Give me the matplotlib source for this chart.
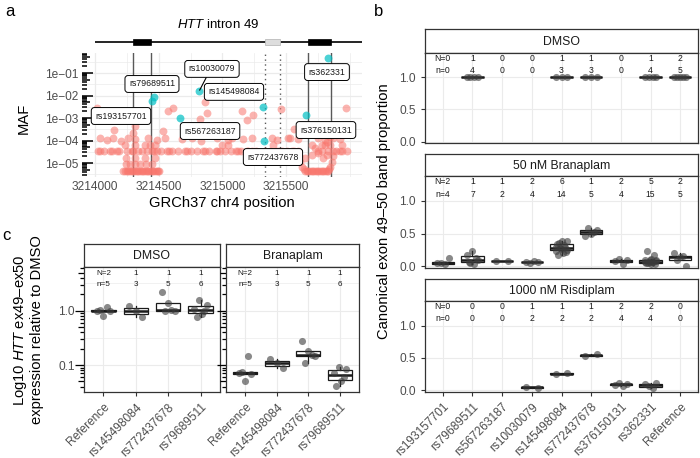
import matplotlib
matplotlib.use('Agg')
import matplotlib.pyplot as plt
import matplotlib.transforms as mtrans
from matplotlib.patches import Rectangle
import numpy as np

plt.rcParams['font.family'] = ['Liberation Sans', 'DejaVu Sans']
plt.rcParams['mathtext.fontset'] = 'custom'
plt.rcParams['mathtext.rm'] = 'Liberation Sans'
plt.rcParams['mathtext.it'] = 'Liberation Sans:italic'

# ---------------- panel a data ----------------
bg_pos = [3214026, 3214040, 3214073, 3214118, 3214130, 3214175, 3214190, 3214249, 3214288,
          3214300, 3214335, 3214372, 3214406, 3214445, 3214460, 3214484, 3214518, 3214563,
          3214580, 3214607, 3214654, 3214707, 3214720, 3214754, 3214798, 3214850, 3214860,
          3214895, 3214947, 3214960, 3214981, 3215021, 3215068, 3215104, 3215120, 3215146,
          3215191, 3215200, 3215230, 3215261, 3215335, 3215374, 3215418, 3215440, 3215466,
          3215505, 3215544, 3215560, 3215596, 3215753, 3215785, 3215827, 3215871, 3215890,
          3215923, 3215940, 3215976]
bg_maf = [3.3e-5] * len(bg_pos)

row2_pos = [3214039, 3214092, 3214144, 3214204, 3214262, 3214314, 3214419, 3214484, 3214550,
            3214680, 3214759, 3214830, 3214955, 3215047, 3215073, 3215165, 3215230, 3215387,
            3215426, 3215531, 3215596, 3215753, 3215806, 3215871, 3215923]
row2_maf = [1.3e-4, 1.1e-4, 1.3e-4, 1.0e-4, 1.3e-4, 1.2e-4, 1.3e-4, 1.1e-4, 1.3e-4,
            1.2e-4, 1.3e-4, 1.0e-4, 1.3e-4, 1.1e-4, 1.3e-4, 1.2e-4, 1.3e-4, 1.3e-4,
            1.1e-4, 1.3e-4, 1.2e-4, 1.3e-4, 1.1e-4, 1.3e-4, 1.2e-4]

row3_pos = [3214236, 3214314, 3214393, 3214432, 3214471, 3214994, 3215047, 3215400,
            3215701, 3215806, 3215845, 3215937]
row3_maf = [6.5e-5] * len(row3_pos)

exon_pos = [3214222, 3214236, 3214249, 3214262, 3214275, 3214288, 3214301, 3214314, 3214327,
            3214340, 3214353, 3214366, 3214379, 3214392, 3214406, 3214419, 3214432, 3214445,
            3214458, 3214471, 3214484, 3214497, 3214503,
            3214241, 3214275, 3214314, 3214353, 3214398, 3214450,
            3214240, 3214314, 3214393, 3214471, 3214301,
            3215650, 3215662, 3215675, 3215688, 3215701, 3215714, 3215727, 3215740, 3215753,
            3215766, 3215779, 3215793, 3215806, 3215819, 3215832,
            3215628, 3215609, 3215600, 3215845, 3215858, 3215866, 3215640, 3215838,
            3215649, 3215793, 3215753, 3215780, 3215819, 3215845, 3215700, 3215730, 3215820]
exon_maf = [4.4e-6] * 23 + [9e-6] * 6 + [1.6e-5] * 4 + [2.1e-4] + [4.4e-6] * 15 + \
           [6.9e-6, 1.15e-5, 2e-5, 6.9e-6, 1.15e-5, 2e-5, 5.5e-6, 5.5e-6,
            1.6e-5, 1.6e-5, 2.7e-5, 6.3e-5, 8.9e-5, 1.5e-4, 2.2e-5, 4.5e-5, 2.3e-5]

hi_pos = [3214013, 3214178, 3214150, 3214314, 3214615, 3214576, 3214536, 3214824, 3214864,
          3214877, 3215152, 3215191, 3215243, 3215458, 3215968, 3215565, 3215086, 3215517]
hi_maf = [2.7e-3, 9e-4, 3.0e-4, 4.6e-4, 2.9e-3, 2.1e-3, 2.7e-4, 9e-4, 5e-3,
          1.6e-3, 2.0e-3, 8e-4, 1.35e-3, 2.5e-3, 2.7e-3, 3.2e-4, 1.9e-2, 1.26e-4]

snp_names = ['rs193157701', 'rs79689511', 'rs567263187', 'rs10030079', 'rs145498084',
             'rs772437678', 'rs376150131', 'rs362331']
snp_pos = [3214445, 3214463, 3214667, 3214819, 3215321, 3215327, 3215656, 3215832]
snp_maf = [5.7e-3, 8.3e-3, 1.0e-3, 1.6e-2, 3.2e-3, 1.0e-4, 1.3e-3, 0.45]

exon_lines = [3214298, 3214440, 3215672, 3215853]
pseudo_lines = [3215335, 3215452]

# ---------------- panel b data ----------------
b_cats = ['rs193157701', 'rs79689511', 'rs567263187', 'rs10030079', 'rs145498084',
          'rs772437678', 'rs376150131', 'rs362331', 'Reference']
b_facets = ['DMSO', '50 nM Branaplam', '1000 nM Risdiplam']
b_dmso = [[], [1, 1, 1, 1], [], [], [1, 1, 1], [1, 1, 1], [], [1, 1, 1, 1], [1, 1, 1, 1, 1]]
b_bran = [[0.035, 0.045, 0.055, 0.13],
          [0.03, 0.05, 0.07, 0.09, 0.13, 0.18, 0.23],
          [0.08, 0.085],
          [0.05, 0.065, 0.07, 0.075],
          [0.18, 0.20, 0.22, 0.24, 0.25, 0.27, 0.28, 0.29, 0.30, 0.32, 0.34, 0.36, 0.38, 0.39],
          [0.46, 0.50, 0.52, 0.55, 0.59],
          [0.04, 0.085, 0.09, 0.11],
          [0.03, 0.04, 0.05, 0.05, 0.06, 0.06, 0.07, 0.07, 0.08, 0.09, 0.10, 0.10, 0.12, 0.18, 0.23],
          [0.005, 0.10, 0.14, 0.16, 0.21]]
b_risd = [[], [], [], [0.04, 0.05], [0.25, 0.27], [0.53, 0.56],
          [0.06, 0.09, 0.10, 0.12], [0.04, 0.06, 0.10, 0.12], []]
b_N = [[0, 1, 0, 0, 1, 1, 0, 1, 2],
       [2, 1, 1, 2, 6, 1, 2, 5, 2],
       [0, 0, 0, 1, 1, 1, 2, 2, 0]]

# ---------------- panel c data ----------------
c_cats = ['Reference', 'rs145498084', 'rs772437678', 'rs79689511']
c_facets = ['DMSO', 'Branaplam']
c_dmso = [[0.78, 0.98, 1.0, 1.02, 1.18], [0.75, 0.98, 1.22],
          [0.97, 0.99, 1.01, 1.38, 2.2], [0.77, 0.88, 0.98, 1.05, 1.25, 1.55]]
c_bran = [[0.05, 0.068, 0.073, 0.076, 0.145], [0.088, 0.108, 0.128],
          [0.108, 0.148, 0.155, 0.18, 0.28], [0.042, 0.052, 0.06, 0.07, 0.085, 0.092]]
c_N = [2, 1, 1, 1]

# ---------------- layout helpers ----------------
W, H = 700, 458
fig = plt.figure(figsize=(7, 4.58), dpi=100)
GRID = '#EBEBEB'
BORDER = '#333333'
TICKTXT = '#4D4D4D'


def px_axes(x0, y0, x1, y1):
    return fig.add_axes([x0 / W, 1 - y1 / H, (x1 - x0) / W, (y1 - y0) / H])


def strip(x0, y0, x1, y1, label):
    s = px_axes(x0, y0, x1, y1)
    s.set_xticks([])
    s.set_yticks([])
    for sp in s.spines.values():
        sp.set_color(BORDER)
        sp.set_linewidth(0.9)
    s.text(0.5, 0.47, label, ha='center', va='center', fontsize=8.8,
           color='#1A1A1A', transform=s.transAxes)


def style_panel(ax):
    for sp in ax.spines.values():
        sp.set_color(BORDER)
        sp.set_linewidth(0.9)
    ax.set_axisbelow(True)
    ax.tick_params(colors=BORDER, labelcolor=TICKTXT, labelsize=8.6, length=3, width=0.8)


def log_ticks(ax, lens, outside, lw=0.9):
    trans = mtrans.blended_transform_factory(ax.transAxes, ax.transData)
    w = ax.get_position().width * W
    lo, hi = ax.get_ylim()
    for e in range(-7, 2):
        for m in range(1, 10):
            v = m * 10.0 ** e
            if v < lo or v > hi:
                continue
            L = lens[0] if m == 1 else (lens[1] if m == 5 else lens[2])
            f = L / w
            xs = [-f, 0] if outside else [0, f]
            ax.plot(xs, [v, v], transform=trans, color='black', lw=lw,
                    clip_on=False, solid_capstyle='butt')


def jitter(i, n, width=0.2):
    if n == 1:
        return np.array([float(i)])
    base = np.linspace(-width, width, n)
    return i + base[np.argsort(np.sin(np.arange(n) * 2.4 + i))]


def draw_boxes(ax, groups):
    for i, vals in enumerate(groups):
        if len(vals) == 0:
            continue
        ax.boxplot([vals], positions=[i], widths=0.75, showfliers=False, patch_artist=True,
                   boxprops=dict(facecolor='white', edgecolor='#1A1A1A', lw=0.9),
                   medianprops=dict(color='#1A1A1A', lw=1.8),
                   whiskerprops=dict(color='#1A1A1A', lw=0.9),
                   capprops=dict(lw=0), manage_ticks=False)
        ax.scatter(jitter(i, len(vals)), vals, s=26, color='#3A3A3A', alpha=0.6,
                   linewidths=0, zorder=5)


# ================= panel a =================
ax_a = px_axes(82.3, 53, 362, 177)
ax_a.set_xlim(3213900, 3216096)
ax_a.set_yscale('log')
ax_a.set_ylim(2.4e-6, 0.774)
for sp in ax_a.spines.values():
    sp.set_visible(False)
ax_a.set_xticks([3214000, 3214500, 3215000, 3215500])
ax_a.set_xticklabels(['3214000', '3214500', '3215000', '3215500'])
ax_a.set_xticks([3214250, 3214750, 3215250, 3215750, 3216000], minor=True)
ax_a.set_yticks([1e-5, 1e-4, 1e-3, 1e-2, 1e-1])
ax_a.set_yticklabels(['1e\u221205', '1e\u221204', '1e\u221203', '1e\u221202', '1e\u221201'])
ax_a.set_yticks([10 ** (k + 0.5) for k in range(-6, 0)], minor=True)
ax_a.yaxis.set_minor_formatter(plt.NullFormatter())
ax_a.tick_params(which='both', length=0, labelcolor=TICKTXT, labelsize=8.6, pad=3)
ax_a.grid(True, which='major', color=GRID, lw=0.9)
ax_a.grid(True, which='minor', color=GRID, lw=0.5)
ax_a.set_axisbelow(True)

for xv in exon_lines:
    ax_a.axvline(xv, color='#595959', lw=1.0, zorder=1)
for xv in pseudo_lines:
    ax_a.axvline(xv, color='#595959', lw=1.0, ls=(0, (1, 2.5)), zorder=1)

salmon = '#F8766D'
for px, py in [(bg_pos, bg_maf), (row2_pos, row2_maf), (row3_pos, row3_maf),
               (exon_pos, exon_maf), (hi_pos, hi_maf)]:
    ax_a.scatter(px, py, s=32, color=salmon, alpha=0.55, linewidths=0, zorder=2)
ax_a.scatter(snp_pos, snp_maf, s=32, color='#00BFC4', alpha=0.7, linewidths=0, zorder=3)
log_ticks(ax_a, (11, 8, 5), outside=False, lw=1.1)

label_xy = [(3214204, 1.23e-3), (3214447, 0.0325), (3214903, 2.65e-4), (3214918, 0.152),
            (3215091, 0.0145), (3215397, 1.85e-5), (3215813, 2.93e-4), (3215821, 0.11)]
ax_a.plot([3214885, 3214822], [0.085, 0.0175], color='black', lw=0.8, zorder=4)
for name, (lx, ly) in zip(snp_names, label_xy):
    ax_a.text(lx, ly, name, ha='center', va='center', fontsize=6.3, color='#1A1A1A', zorder=6,
              bbox=dict(boxstyle='round,pad=0.45,rounding_size=0.35', fc='white', ec='black', lw=0.7))

fig.text(24 / W, 1 - 118 / H, 'MAF', rotation=90, ha='center', va='center', fontsize=10.6)
fig.text(222 / W, 1 - 203 / H, 'GRCh37 chr4 position', ha='center', va='center', fontsize=10.6)

# gene track
ax_t = px_axes(82.3, 32, 362, 52)
ax_t.set_xlim(ax_a.get_xlim())
ax_t.set_ylim(0, 1)
ax_t.axis('off')
ax_t.plot([3214000, 3216096], [0.5, 0.5], color='black', lw=1.2, solid_capstyle='butt')
ax_t.add_patch(Rectangle((3214298, 0.36), 142, 0.28, fc='black', ec='black', lw=0.5))
ax_t.add_patch(Rectangle((3215672, 0.36), 181, 0.28, fc='black', ec='black', lw=0.5))
ax_t.add_patch(Rectangle((3215335, 0.36), 117, 0.28, fc='#DDDDDD', ec='#BBBBBB', lw=0.6, zorder=3))
fig.text(218 / W, 1 - 25 / H, r'$\mathit{HTT}$ intron 49', ha='center', va='center', fontsize=9.5)

# ================= panel b =================
b_rows = [(29.3, 52.7, 143.3), (154, 176, 268), (279, 301, 392)]
b_groups = [b_dmso, b_bran, b_risd]
for k, (s0, p0, p1) in enumerate(b_rows):
    strip(425, s0, 698, p0, b_facets[k])
    ax = px_axes(425, p0, 698, p1)
    style_panel(ax)
    ax.set_xlim(-0.6, 8.6)
    ax.set_ylim(-0.025, 1.38)
    ax.set_yticks([0, 0.5, 1.0])
    ax.set_yticklabels(['0.0', '0.5', '1.0'])
    ax.set_xticks(range(len(b_cats)))
    ax.grid(True, which='major', color=GRID, lw=0.8)
    draw_boxes(ax, b_groups[k])
    for i, vals in enumerate(b_groups[k]):
        ntxt = ('N=%d' if i == 0 else '%d') % b_N[k][i]
        mtxt = ('n=%d' if i == 0 else '%d') % len(vals)
        ax.text(i, 1.295, ntxt, ha='center', va='center', fontsize=6.2, color='#1A1A1A')
        ax.text(i, 1.105, mtxt, ha='center', va='center', fontsize=6.2, color='#1A1A1A')
    if k < 2:
        ax.tick_params(axis='x', length=0, labelbottom=False)
    else:
        ax.set_xticklabels(b_cats, rotation=45, ha='right', va='top', rotation_mode='anchor')
fig.text(384 / W, 1 - 211 / H, 'Canonical exon 49\u201350 band proportion', rotation=90,
         ha='center', va='center', fontsize=10.6)

# ================= panel c =================
c_groups = [c_dmso, c_bran]
for k, (x0, x1) in enumerate([(84, 220), (226, 359)]):
    strip(x0, 244, x1, 267.3, c_facets[k])
    ax = px_axes(x0, 267.3, x1, 392.3)
    style_panel(ax)
    ax.set_yscale('log')
    ax.set_xlim(-0.6, 3.6)
    ax.set_ylim(0.0332, 6.23)
    ax.set_yticks([0.1, 1.0])
    ax.set_yticks([10 ** -1.5, 10 ** -0.5, 10 ** 0.5], minor=True)
    ax.yaxis.set_minor_formatter(plt.NullFormatter())
    ax.tick_params(axis='y', which='minor', length=0)
    if k == 0:
        ax.set_yticklabels(['0.1', '1.0'])
    else:
        ax.set_yticklabels([])
    ax.set_xticks(range(len(c_cats)))
    ax.set_xticklabels(c_cats, rotation=45, ha='right', va='top', rotation_mode='anchor')
    ax.grid(True, which='major', color=GRID, lw=0.8)
    ax.grid(True, which='minor', axis='y', color=GRID, lw=0.5)
    draw_boxes(ax, c_groups[k])
    log_ticks(ax, (9, 6, 4), outside=True, lw=0.9)
    for i, vals in enumerate(c_groups[k]):
        ntxt = ('N=%d' if i == 0 else '%d') % c_N[i]
        mtxt = ('n=%d' if i == 0 else '%d') % len(vals)
        ax.text(i, 4.85, ntxt, ha='center', va='center', fontsize=5.9, color='#1A1A1A')
        ax.text(i, 3.06, mtxt, ha='center', va='center', fontsize=5.9, color='#1A1A1A')
fig.text(28 / W, 1 - 330 / H,
         'Log10 $\\mathit{HTT}$ ex49\u2013ex50\nexpression relative to DMSO', rotation=90,
         ha='center', va='center', fontsize=10.6, linespacing=1.05)

# panel letters
fig.text(5 / W, 1 - 11 / H, 'a', fontsize=12, ha='left', va='center')
fig.text(374 / W, 1 - 12 / H, 'b', fontsize=12, ha='left', va='center')
fig.text(2 / W, 1 - 236 / H, 'c', fontsize=12, ha='left', va='center')

fig.savefig('out.png', dpi=100)
